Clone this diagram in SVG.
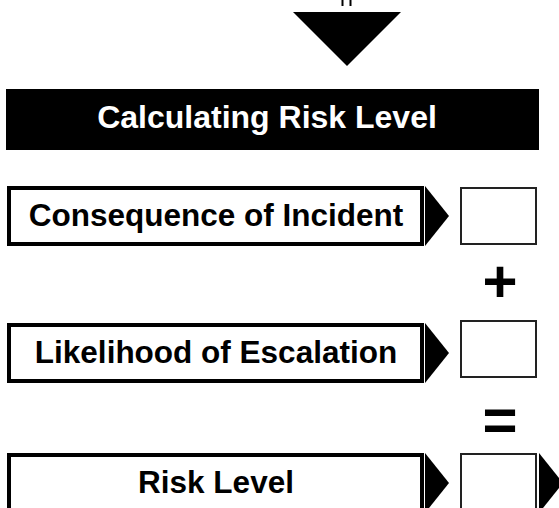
<svg xmlns="http://www.w3.org/2000/svg" width="559" height="508" viewBox="0 0 559 508">
  <style>
    .label { font-family: "Liberation Sans", Arial, sans-serif; font-weight: bold; font-size: 31.5px; text-anchor: middle; fill: #000; }
    .title { font-family: "Liberation Sans", Arial, sans-serif; font-weight: bold; font-size: 32px; text-anchor: middle; fill: #fff; }
    .op { font-family: "Liberation Sans", Arial, sans-serif; font-weight: bold; font-size: 60px; text-anchor: middle; fill: #000; }
    .stage { fill: #fff; stroke: #000; stroke-width: 4; }
    .slot { fill: #fff; stroke: #222; stroke-width: 2; }
    .pointer { fill: #000; }
  </style>

  <!-- incoming arrow from above -->
  <g id="incoming">
    <line x1="342.5" y1="0" x2="342.5" y2="6" stroke="#000" stroke-width="2"/>
    <line x1="350.5" y1="0" x2="350.5" y2="6" stroke="#000" stroke-width="2"/>
    <polygon points="293,12 401,12 347,66" fill="#000"/>
  </g>

  <!-- heading bar -->
  <g id="heading">
    <rect x="6" y="89" width="533" height="61" fill="#000"/>
    <text class="title" x="267" y="128">Calculating Risk Level</text>
  </g>

  <!-- row 1 -->
  <g id="consequence">
    <rect class="stage" x="9" y="188" width="413" height="56"/>
    <text class="label" x="216" y="226">Consequence of Incident</text>
  </g>
  <g id="consequence-value">
    <rect class="slot" x="461" y="188" width="75" height="56"/>
  </g>

  <!-- operator + -->
  <g id="plus">
    <text class="op" x="500" y="302">+</text>
  </g>

  <!-- row 2 -->
  <g id="likelihood">
    <rect class="stage" x="9" y="325" width="413" height="56"/>
    <text class="label" x="216" y="363">Likelihood of Escalation</text>
  </g>
  <g id="likelihood-value">
    <rect class="slot" x="461" y="321" width="75" height="56"/>
  </g>

  <!-- operator = -->
  <g id="equals">
    <text class="op" x="500" y="440">=</text>
  </g>

  <!-- row 3 -->
  <g id="risk-level">
    <rect class="stage" x="9" y="455" width="413" height="56"/>
    <text class="label" x="216" y="493">Risk Level</text>
  </g>
  <g id="risk-level-value">
    <rect class="slot" x="461" y="454" width="75" height="58"/>
  </g>

  <!-- pointers between stages and values -->
  <g id="connectors">
    <polygon class="pointer" points="425,186 449,216 425,246"/>
    <polygon class="pointer" points="425,323 449,353 425,383"/>
    <polygon class="pointer" points="425,453 449,483 425,513"/>
    <polygon class="pointer" points="539,453 563,483 539,513"/>
  </g>
</svg>
